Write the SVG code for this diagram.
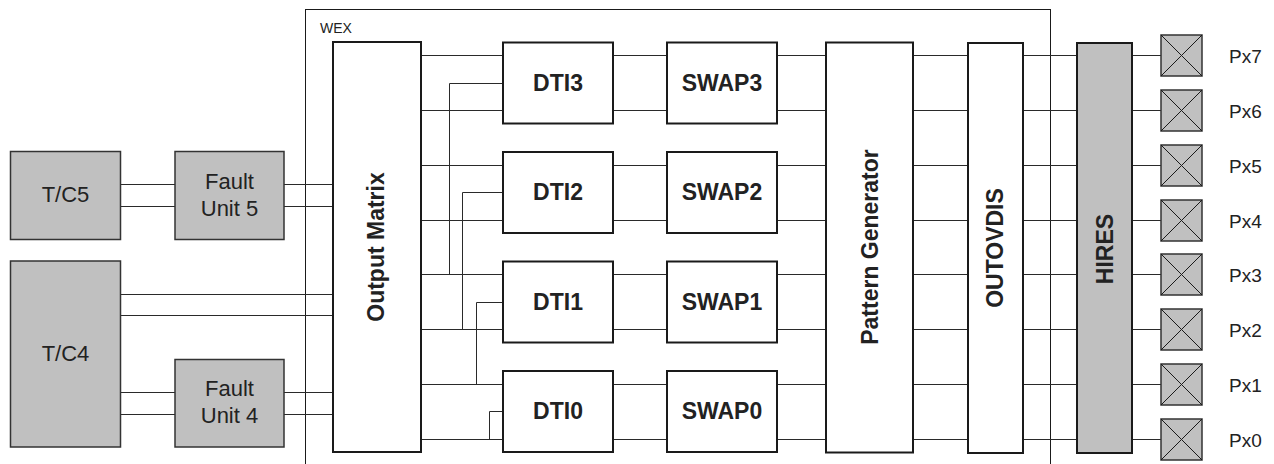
<svg xmlns="http://www.w3.org/2000/svg" width="1274" height="464" viewBox="0 0 1274 464">
<style>
.bg{fill:#ffffff}
.wb{fill:#ffffff;stroke:#1a1a1a;stroke-width:2}
.gb{fill:#c0c0c0;stroke:#333333;stroke-width:1.5}
.frame{fill:none;stroke:#1a1a1a;stroke-width:1}
.ln{fill:none;stroke:#2a2a2a;stroke-width:1}
.t{font-family:"Liberation Sans",Arial,sans-serif;font-size:22px;fill:#222222;text-anchor:middle}
.b{font-family:"Liberation Sans",Arial,sans-serif;font-size:23px;font-weight:bold;fill:#222222;text-anchor:middle}
.px{font-family:"Liberation Sans",Arial,sans-serif;font-size:19px;fill:#222222}
.sm{font-family:"Liberation Sans",Arial,sans-serif;font-size:14px;fill:#222222}
</style>
<rect class="bg" x="0" y="0" width="1274" height="464"/>

<g id="wex">
<rect class="frame" x="305.5" y="9.5" width="745" height="470"/>
<text class="sm" x="320" y="33">WEX</text>
</g>

<g id="connectors">
<!-- left side -->
<path class="ln" d="M120 184.5H175M120 206.5H175M284 184.5H333M284 206.5H333"/>
<path class="ln" d="M120 294.5H333M120 315.5H333"/>
<path class="ln" d="M120 392.5H175M120 414.5H175M284 392.5H333M284 414.5H333"/>
<!-- output matrix to DTI -->
<path class="ln" d="M421 55.5H503M421 110.5H503M421 165.5H503M421 220.5H503M421 274.5H503M421 329.5H503M421 384.5H503M421 439.5H503"/>
<!-- cross links -->
<path class="ln" d="M503 83.5H449.5V274.5"/>
<path class="ln" d="M503 192.5H462.5V329.5"/>
<path class="ln" d="M503 302.5H476.5V384.5"/>
<path class="ln" d="M503 411.5H489.5V439.5"/>
<!-- DTI to SWAP -->
<path class="ln" d="M613 55.5H667M613 110.5H667M613 165.5H667M613 220.5H667M613 274.5H667M613 329.5H667M613 384.5H667M613 439.5H667"/>
<!-- SWAP to Pattern Generator -->
<path class="ln" d="M777 55.5H826M777 110.5H826M777 165.5H826M777 220.5H826M777 274.5H826M777 329.5H826M777 384.5H826M777 439.5H826"/>
<!-- PG to OUTOVDIS -->
<path class="ln" d="M913 55.5H968M913 110.5H968M913 165.5H968M913 220.5H968M913 274.5H968M913 329.5H968M913 384.5H968M913 439.5H968"/>
<!-- OUTOVDIS to HIRES -->
<path class="ln" d="M1023 55.5H1077M1023 110.5H1077M1023 165.5H1077M1023 220.5H1077M1023 274.5H1077M1023 329.5H1077M1023 384.5H1077M1023 439.5H1077"/>
<!-- HIRES to pins -->
<path class="ln" d="M1132 55.5H1161M1132 110.5H1161M1132 165.5H1161M1132 220.5H1161M1132 274.5H1161M1132 329.5H1161M1132 384.5H1161M1132 439.5H1161"/>
</g>

<g id="tc5">
<rect class="gb" x="10.5" y="151.5" width="110" height="88"/>
<text class="t" x="65.5" y="201.5">T/C5</text>
</g>
<g id="fault5">
<rect class="gb" x="175" y="151.5" width="109" height="88"/>
<text class="t" x="229.5" y="189">Fault</text>
<text class="t" x="229.5" y="216">Unit 5</text>
</g>
<g id="tc4">
<rect class="gb" x="10.5" y="261" width="110" height="186"/>
<text class="t" x="65.5" y="360.5">T/C4</text>
</g>
<g id="fault4">
<rect class="gb" x="175" y="359.5" width="109" height="87.5"/>
<text class="t" x="229.5" y="396">Fault</text>
<text class="t" x="229.5" y="423">Unit 4</text>
</g>

<g id="output-matrix">
<rect class="wb" x="333" y="42" width="88" height="410"/>
<text class="b" transform="translate(384,247) rotate(-90)">Output Matrix</text>
</g>

<g id="dti3"><rect class="wb" x="503" y="42.5" width="110" height="81"/><text class="b" x="558" y="91">DTI3</text></g>
<g id="dti2"><rect class="wb" x="503" y="152" width="110" height="81"/><text class="b" x="558" y="200">DTI2</text></g>
<g id="dti1"><rect class="wb" x="503" y="261.5" width="110" height="81"/><text class="b" x="558" y="309.5">DTI1</text></g>
<g id="dti0"><rect class="wb" x="503" y="371" width="110" height="81"/><text class="b" x="558" y="419">DTI0</text></g>

<g id="swap3"><rect class="wb" x="667" y="42.5" width="110" height="81"/><text class="b" x="722" y="91">SWAP3</text></g>
<g id="swap2"><rect class="wb" x="667" y="152" width="110" height="81"/><text class="b" x="722" y="200">SWAP2</text></g>
<g id="swap1"><rect class="wb" x="667" y="261.5" width="110" height="81"/><text class="b" x="722" y="309.5">SWAP1</text></g>
<g id="swap0"><rect class="wb" x="667" y="371" width="110" height="81"/><text class="b" x="722" y="419">SWAP0</text></g>

<g id="pattern-generator">
<rect class="wb" x="826" y="42.5" width="87" height="410"/>
<text class="b" transform="translate(878,247) rotate(-90)">Pattern Generator</text>
</g>
<g id="outovdis">
<rect class="wb" x="968" y="43" width="55" height="410"/>
<text class="b" transform="translate(1003,248) rotate(-90)">OUTOVDIS</text>
</g>
<g id="hires">
<rect class="gb" x="1077" y="43" width="55" height="410" style="stroke:#1a1a1a;stroke-width:2"/>
<text class="b" transform="translate(1113,249) rotate(-90)">HIRES</text>
</g>

<defs>
<g id="pin">
<rect class="gb" x="0" y="-20.5" width="41" height="41"/>
<path class="ln" d="M0 -20.5L41 20.5M0 20.5L41 -20.5" style="stroke:#1a1a1a"/>
</g>
</defs>
<g id="px7"><use href="#pin" x="1161" y="55.5"/><text class="px" x="1229" y="62.5">Px7</text></g>
<g id="px6"><use href="#pin" x="1161" y="110.5"/><text class="px" x="1229" y="117.5">Px6</text></g>
<g id="px5"><use href="#pin" x="1161" y="165.5"/><text class="px" x="1229" y="172.5">Px5</text></g>
<g id="px4"><use href="#pin" x="1161" y="220.5"/><text class="px" x="1229" y="227.5">Px4</text></g>
<g id="px3"><use href="#pin" x="1161" y="274.5"/><text class="px" x="1229" y="281.5">Px3</text></g>
<g id="px2"><use href="#pin" x="1161" y="329.5"/><text class="px" x="1229" y="336.5">Px2</text></g>
<g id="px1"><use href="#pin" x="1161" y="384.5"/><text class="px" x="1229" y="391.5">Px1</text></g>
<g id="px0"><use href="#pin" x="1161" y="439.5"/><text class="px" x="1229" y="446.5">Px0</text></g>
</svg>
